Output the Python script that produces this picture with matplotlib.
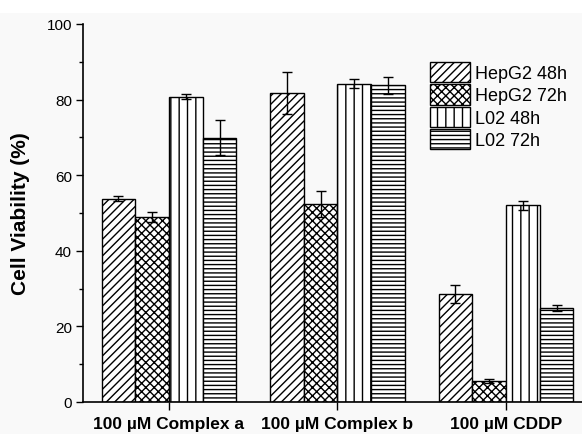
import matplotlib.pyplot as plt
import matplotlib.patches as mpatches
import numpy as np

plt.rcParams['font.family'] = ['Liberation Sans', 'DejaVu Sans']
plt.rcParams['hatch.linewidth'] = 1.0

# data
groups = ['100 \u00b5M Complex a', '100 \u00b5M Complex b', '100 \u00b5M CDDP']
series = ['HepG2 48h', 'HepG2 72h', 'L02 48h', 'L02 72h']
hepg2_48 = [53.8, 81.7, 28.6]
hepg2_72 = [48.9, 52.3, 5.6]
l02_48 = [80.8, 84.2, 52.0]
l02_72 = [69.9, 83.8, 24.9]
err_hepg2_48 = [0.6, 5.6, 2.4]
err_hepg2_72 = [1.3, 3.4, 0.5]
err_l02_48 = [0.6, 1.2, 1.2]
err_l02_72 = [4.6, 2.2, 0.7]

values = [hepg2_48, hepg2_72, l02_48, l02_72]
errors = [err_hepg2_48, err_hepg2_72, err_l02_48, err_l02_72]
hatches = ['////', 'xxxx', '||', '----']

fig = plt.figure(figsize=(5.82, 4.35), dpi=100, facecolor='#f9f9f9')
fig.patches.append(mpatches.Rectangle((0, 1 - 14 / 435), 1, 14 / 435, transform=fig.transFigure,
                                      facecolor='white', edgecolor='none', zorder=-1))
ax = fig.add_axes([83 / 582, 32 / 435, 1 - 83 / 582, 378 / 435])
ax.set_facecolor('none')

x = np.arange(len(groups))
w = 0.2
handles = []
for i, (vals, errs, h, lab) in enumerate(zip(values, errors, hatches, series)):
    pos = x + (i - 1.5) * w
    b = ax.bar(pos, vals, width=w, facecolor='white', edgecolor='black', linewidth=1.0,
               hatch=h, label=lab, zorder=2)
    ax.errorbar(pos, vals, yerr=errs, fmt='none', ecolor='black', elinewidth=1.0,
                capsize=3.3, capthick=1.0, zorder=3)
    handles.append(b)

ax.set_xlim(-0.51, 2.451)
ax.set_ylim(0, 100)
ax.set_yticks(np.arange(0, 101, 20))
ax.set_yticks(np.arange(10, 100, 20), minor=True)
ax.set_xticks(x)
ax.set_xticklabels(groups, fontsize=12.5, fontweight='bold')
ax.tick_params(axis='y', which='major', length=5, width=1, labelsize=11, pad=3)
ax.tick_params(axis='y', which='minor', length=3, width=1)
ax.tick_params(axis='x', length=6, width=1, pad=4)
ax.set_ylabel('Cell Viability (%)', fontsize=15, fontweight='bold', labelpad=12)

for s in ['top', 'right']:
    ax.spines[s].set_visible(False)
for s in ['left', 'bottom']:
    ax.spines[s].set_linewidth(1.2)

ax.legend(handles=handles, loc='upper left', bbox_to_anchor=(0.695, 0.9), frameon=False,
          fontsize=13, handlelength=2.2, handleheight=1.35, labelspacing=0.12,
          handletextpad=0.3, borderpad=0, borderaxespad=0)

fig.savefig('out.png', dpi=100, facecolor=fig.get_facecolor())
